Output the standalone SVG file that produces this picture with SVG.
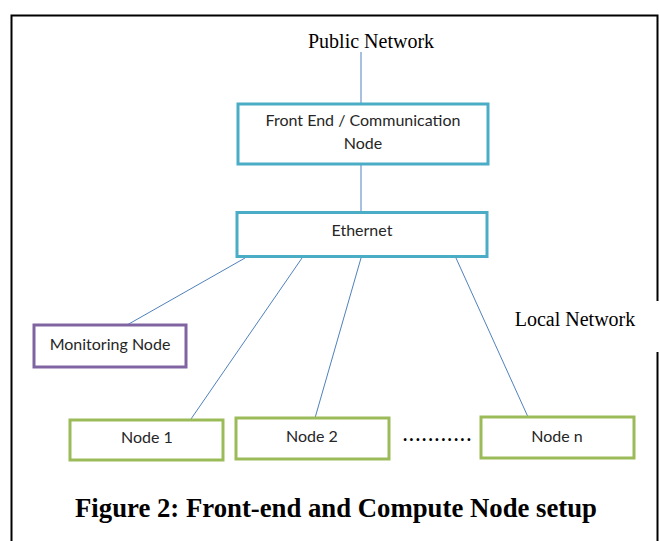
<svg xmlns="http://www.w3.org/2000/svg" width="659" height="541" viewBox="0 0 659 541">
<style>
.box{fill:#fff;stroke-width:3}
.fe{stroke:#4bacc6}
.mon{stroke:#8064a2}
.cn{stroke:#9bbb59}
.lbl{font-family:Lato,"Open Sans","Liberation Sans",sans-serif;font-size:16px;fill:#262626;text-anchor:middle}
.tn{font-family:"Liberation Serif",serif;font-size:20px;fill:#000}
.conn line{stroke:#4f81bd;stroke-width:1}
</style>
<rect width="659" height="541" fill="#fff"/>
<g id="frame" fill="none" stroke="#000" stroke-width="2">
<polyline points="11.5,545 11.5,15.5 657.5,15.5 657.5,301"/>
<line x1="657.5" y1="352" x2="657.5" y2="545"/>
</g>
<text class="tn" x="371" y="48" text-anchor="middle">Public Network</text>
<text class="tn" x="575" y="326" text-anchor="middle">Local Network</text>
<g class="conn" id="connectors">
<line x1="361" y1="52" x2="361" y2="104"/>
<line x1="361" y1="165" x2="361" y2="212"/>
<line x1="245" y1="258" x2="127" y2="325"/>
<line x1="302" y1="258" x2="191" y2="419"/>
<line x1="361" y1="258" x2="315" y2="418"/>
<line x1="456" y1="258" x2="528" y2="417"/>
</g>
<g id="frontend">
<rect class="box fe" x="238" y="104" width="250" height="60"/>
<text class="lbl" x="363" y="126">Front End / Communication</text>
<text class="lbl" x="363" y="149">Node</text>
</g>
<g id="ethernet">
<rect class="box fe" x="237" y="212.5" width="250" height="44"/>
<text class="lbl" x="362" y="236">Ethernet</text>
</g>
<g id="monitoring">
<rect class="box mon" x="34" y="325" width="152" height="42"/>
<text class="lbl" x="110" y="350">Monitoring Node</text>
</g>
<g id="node1">
<rect class="box cn" x="70" y="420" width="153" height="40"/>
<text class="lbl" x="147" y="443">Node 1</text>
</g>
<g id="node2">
<rect class="box cn" x="236" y="418" width="153" height="41"/>
<text class="lbl" x="312" y="442">Node 2</text>
</g>
<text x="403" y="441" font-family="Lato,'Liberation Sans',sans-serif" font-size="18" font-weight="bold" fill="#000" textLength="68" lengthAdjust="spacing">...........</text>
<g id="noden">
<rect class="box cn" x="481" y="417" width="153" height="41"/>
<text class="lbl" x="557" y="442">Node n</text>
</g>
<text x="75" y="517" font-family="'Liberation Serif',serif" font-size="27" font-weight="bold" fill="#000" textLength="522" lengthAdjust="spacingAndGlyphs">Figure 2: Front-end and Compute Node setup</text>
</svg>
